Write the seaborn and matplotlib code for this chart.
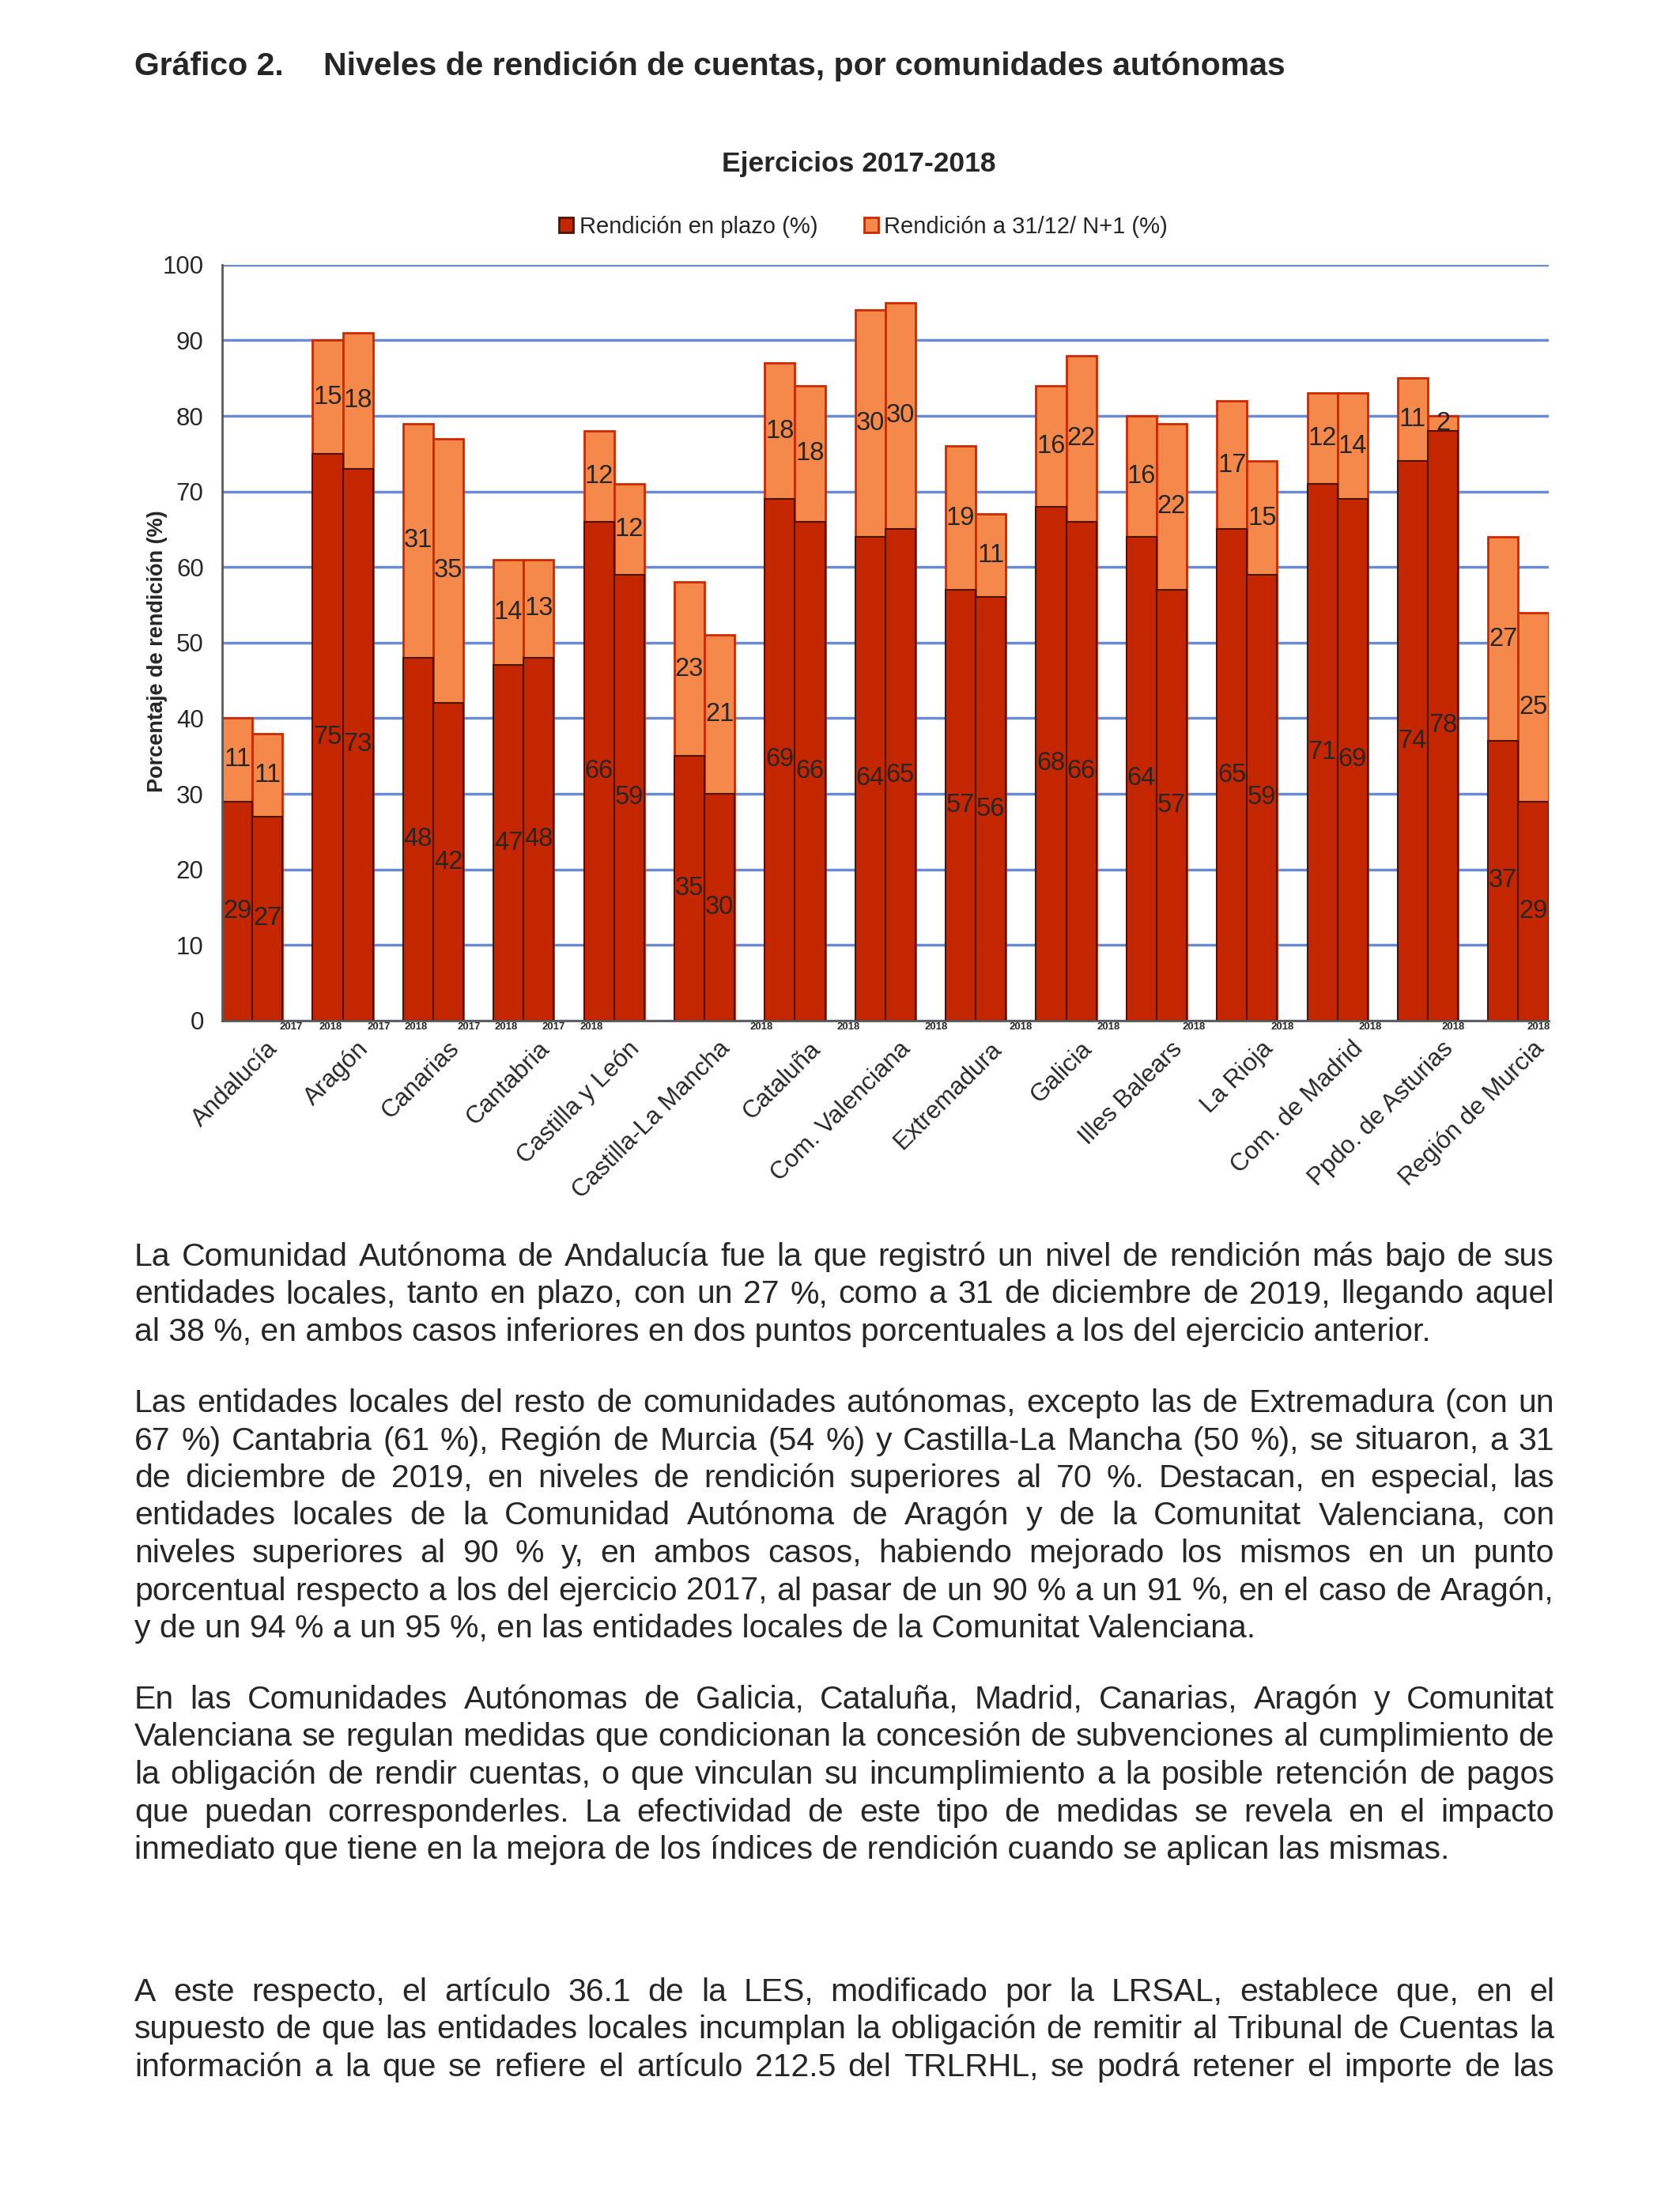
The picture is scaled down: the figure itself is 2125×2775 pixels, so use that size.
import matplotlib
matplotlib.use("Agg")
import matplotlib.pyplot as plt
from matplotlib.patches import Patch
import pandas as pd
import seaborn as sns

# --- data --------------------------------------------------------------------
regions = [
    "Andalucía", "Aragón", "Canarias", "Cantabria", "Castilla y León",
    "Castilla-La Mancha", "Cataluña", "Com. Valenciana", "Extremadura",
    "Galicia", "Illes Balears", "La Rioja", "Com. de Madrid",
    "Ppdo. de Asturias", "Región de Murcia",
]
years = ["2017", "2018"]
plazo_2017 = [29, 75, 48, 47, 66, 35, 69, 64, 57, 68, 64, 65, 71, 74, 37]
extra_2017 = [11, 15, 31, 14, 12, 23, 18, 30, 19, 16, 16, 17, 12, 11, 27]
plazo_2018 = [27, 73, 42, 48, 59, 30, 66, 65, 56, 66, 57, 59, 69, 78, 29]
extra_2018 = [11, 18, 35, 13, 12, 21, 18, 30, 11, 22, 22, 15, 14, 2, 25]

# the stray year labels under the axis (slot units from the left edge)
year_tick_pos = [2.29, 3.60, 5.19, 6.43, 8.18, 9.42, 10.99, 12.25, 15.0, 17.9,
                 20.77, 23.68, 26.49, 29.4, 32.23, 35.17, 38.1, 40.83, 43.67]
year_tick_lab = ["2017", "2018", "2017", "2018", "2017", "2018", "2017", "2018",
                 "2018", "2018", "2018", "2018", "2018", "2018", "2018", "2018",
                 "2018", "2018", "2018"]

page_title = ["Gráfico 2.", "Niveles de rendición de cuentas, por comunidades autónomas"]
chart_title = "Ejercicios 2017-2018"
legend_labels = ["Rendición en plazo (%)", "Rendición a 31/12/ N+1 (%)"]
ylabel = "Porcentaje de rendición (%)"

paragraphs = [
    [
        "La Comunidad Autónoma de Andalucía fue la que registró un nivel de rendición más bajo de sus",
        "entidades locales, tanto en plazo, con un 27 %, como a 31 de diciembre de 2019, llegando aquel",
        "al 38 %, en ambos casos inferiores en dos puntos porcentuales a los del ejercicio anterior.",
    ],
    [
        "Las entidades locales del resto de comunidades autónomas, excepto las de Extremadura (con un",
        "67 %) Cantabria (61 %), Región de Murcia (54 %) y Castilla-La Mancha (50 %), se situaron, a 31",
        "de diciembre de 2019, en niveles de rendición superiores al 70 %. Destacan, en especial, las",
        "entidades locales de la Comunidad Autónoma de Aragón y de la Comunitat Valenciana, con",
        "niveles superiores al 90 % y, en ambos casos, habiendo mejorado los mismos en un punto",
        "porcentual respecto a los del ejercicio 2017, al pasar de un 90 % a un 91 %, en el caso de Aragón,",
        "y de un 94 % a un 95 %, en las entidades locales de la Comunitat Valenciana.",
    ],
    [
        "En las Comunidades Autónomas de Galicia, Cataluña, Madrid, Canarias, Aragón y Comunitat",
        "Valenciana se regulan medidas que condicionan la concesión de subvenciones al cumplimiento de",
        "la obligación de rendir cuentas, o que vinculan su incumplimiento a la posible retención de pagos",
        "que puedan corresponderles. La efectividad de este tipo de medidas se revela en el impacto",
        "inmediato que tiene en la mejora de los índices de rendición cuando se aplican las mismas.",
    ],
    [],
    [
        "A este respecto, el artículo 36.1 de la LES, modificado por la LRSAL, establece que, en el",
        "supuesto de que las entidades locales incumplan la obligación de remitir al Tribunal de Cuentas la",
        "información a la que se refiere el artículo 212.5 del TRLRHL, se podrá retener el importe de las",
    ],
]
continues_on_next_page = [False, False, False, False, True]

# --- styling -----------------------------------------------------------------
RED = "#C42600"
RED_EDGE = "#4D1200"
ORANGE = "#F4894B"
ORANGE_EDGE = "#CC2900"
GRID = "#6A8AD2"
AXIS = "#595959"

W_PX, H_PX = 2125, 2775
sns.set_style("white")
plt.rcParams["font.family"] = ["Liberation Sans", "DejaVu Sans"]


def build_frame() -> pd.DataFrame:
    rows = []
    for g, name in enumerate(regions):
        for k, (pl, ex) in enumerate([(plazo_2017[g], extra_2017[g]),
                                      (plazo_2018[g], extra_2018[g])]):
            rows.append({
                "region": name,
                "year": years[k],
                "pos": 3 * g + k + 0.5,  # two bars + one empty slot per region
                "plazo": pl,
                "extra": ex,
                "total": pl + ex,
            })
    return pd.DataFrame(rows)


def draw_chart(fig, df: pd.DataFrame):
    ax = fig.add_axes([281 / W_PX, 1 - 1290.8 / H_PX,
                       1677.5 / W_PX, 956 / H_PX])
    sns.barplot(data=df, x="pos", y="total", native_scale=True, width=1,
                color=ORANGE, saturation=1, edgecolor=ORANGE_EDGE,
                linewidth=0.8, errorbar=None, ax=ax, zorder=2)
    sns.barplot(data=df, x="pos", y="plazo", native_scale=True, width=1,
                color=RED, saturation=1, edgecolor=RED_EDGE,
                linewidth=0.6, errorbar=None, ax=ax, zorder=3)

    for _, r in df.iterrows():
        ax.text(r["pos"], r["plazo"] / 2, f"{r['plazo']:.0f}", ha="center",
                va="center", fontsize=9.4, zorder=5)
        ax.text(r["pos"], r["plazo"] + r["extra"] / 2, f"{r['extra']:.0f}",
                ha="center", va="center", fontsize=9.4, zorder=5)

    n_slots = 3 * len(regions) - 1
    ax.set_xlim(0, n_slots)
    ax.set_ylim(0, 100)
    ax.set_yticks(range(0, 101, 10))
    ax.set_xticks(range(0, n_slots + 1))
    ax.set_xticklabels([])
    ax.set_xticks(year_tick_pos, labels=year_tick_lab, minor=True)
    ax.tick_params(axis="x", which="minor", length=0, pad=0.6, labelsize=3.8)
    for t in ax.get_xticklabels(minor=True):
        t.set_fontweight("bold")
    ax.tick_params(axis="both", which="major", direction="out", length=3.2,
                   width=0.7, color=AXIS, labelsize=9.0)
    ax.tick_params(axis="y", which="major", pad=3.5)
    ax.set_xlabel("")
    ax.set_ylabel(ylabel, fontsize=7.8, fontweight="bold")
    ax.yaxis.set_label_coords(-0.041, 0.489)

    ax.yaxis.grid(True, color=GRID, linewidth=1.0)
    ax.set_axisbelow(True)
    for side in ["top", "right"]:
        ax.spines[side].set_visible(False)
    for side in ["left", "bottom"]:
        ax.spines[side].set_color(AXIS)
        ax.spines[side].set_linewidth(0.8)
        ax.spines[side].set_zorder(4)

    for g, name in enumerate(regions):
        ax.annotate(name, xy=(3 * g + 1, 0), xycoords=("data", "axes fraction"),
                    xytext=(5.0, -6), textcoords="offset points", rotation=45,
                    rotation_mode="anchor", ha="right", va="top", fontsize=9.0)

    handles = [Patch(facecolor=RED, edgecolor=RED_EDGE, linewidth=0.8),
               Patch(facecolor=ORANGE, edgecolor=ORANGE_EDGE, linewidth=0.8)]
    fig.legend(handles=handles, labels=legend_labels, loc="center",
               bbox_to_anchor=(1092 / W_PX, 1 - 287 / H_PX), ncol=2,
               frameon=False, fontsize=8.4, handlelength=0.62,
               handleheight=0.62, handletextpad=0.25, columnspacing=2.0)
    fig.text(1086 / W_PX, 1 - 207 / H_PX, chart_title, ha="center",
             va="center", fontsize=10.2, fontweight="bold")


def draw_page_text(fig):
    renderer = fig.canvas.get_renderer()
    body_fs = 11.8
    x0, x1 = 170, 1966
    step, para_gap = 47.5, 42.5

    fig.text(x0 / W_PX, 1 - 95 / H_PX, page_title[0], fontsize=11.8,
             fontweight="bold", va="baseline")
    fig.text(409 / W_PX, 1 - 95 / H_PX, page_title[1], fontsize=11.8,
             fontweight="bold", va="baseline")

    y = 1601
    for lines, cont in zip(paragraphs, continues_on_next_page):
        for i, line in enumerate(lines):
            yb = 1 - (y + i * step) / H_PX
            justify = cont or i < len(lines) - 1
            if not justify:
                fig.text(x0 / W_PX, yb, line, fontsize=body_fs, va="baseline")
                continue
            words = line.split()
            arts = [fig.text(0, yb, w, fontsize=body_fs, va="baseline") for w in words]
            widths = [a.get_window_extent(renderer).width for a in arts]
            gap = (x1 - x0 - sum(widths)) / (len(words) - 1)
            x = x0
            for a, w in zip(arts, widths):
                a.set_x(x / W_PX)
                x += w + gap
        y += max(1, len(lines)) * step + para_gap


def main():
    fig = plt.figure(figsize=(8.5, 11.1), dpi=250)
    fig.patch.set_facecolor("white")
    df = build_frame()
    draw_chart(fig, df)
    draw_page_text(fig)
    fig.savefig("out.png", dpi=250, facecolor="white")
    plt.close(fig)


if __name__ == "__main__":
    main()
